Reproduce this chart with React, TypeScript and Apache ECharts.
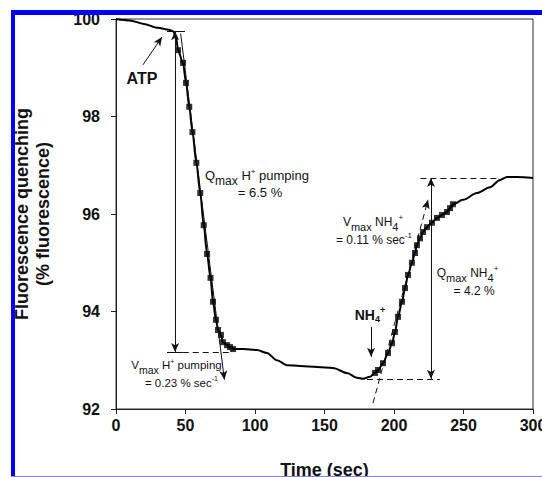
import React, { useEffect, useRef } from "react";
import * as echarts from "echarts";

// Fluorescence trace (time in sec, % fluorescence)
const traceTime = [0, 10, 20, 30, 38, 41, 43.3, 44.6, 48.2, 50.4, 52.7, 55.0, 57.8, 60.6, 63.1, 65.5, 68.0, 69.8, 71.9, 73.4, 75.5, 77.0, 79.9, 82.0, 84.2, 91.4, 101.4, 108.6, 115.8, 123, 132.4, 144.6, 156.1, 166.2, 173.4, 177.7, 182.7, 186.3, 188.5, 192.1, 195.7, 198.6, 200.7, 202.9, 205.8, 207.9, 210.1, 212.9, 215.1, 216.5, 218.7, 220.9, 223.7, 227.3, 230.9, 234.5, 238.1, 240.3, 242.4, 249.6, 259.7, 269.1, 276.3, 281.3, 288.5, 300];
const traceFluor = [100, 99.97, 99.9, 99.82, 99.78, 99.75, 99.62, 99.36, 99.1, 98.69, 98.2, 97.68, 97.05, 96.43, 95.77, 95.18, 94.69, 94.2, 93.83, 93.62, 93.52, 93.37, 93.31, 93.27, 93.23, 93.23, 93.21, 93.15, 93.0, 92.9, 92.88, 92.86, 92.84, 92.74, 92.64, 92.62, 92.66, 92.74, 92.8, 92.94, 93.15, 93.35, 93.58, 93.89, 94.2, 94.48, 94.75, 95.0, 95.2, 95.36, 95.5, 95.63, 95.73, 95.82, 95.92, 95.98, 96.04, 96.12, 96.2, 96.29, 96.43, 96.55, 96.7, 96.76, 96.76, 96.74];

// Square markers along the two fitted phases
const markerTime = [44.6, 48.2, 50.4, 52.7, 55.0, 57.8, 60.6, 63.1, 65.5, 68.0, 69.8, 71.9, 73.4, 75.5, 77.0, 79.9, 82.0, 84.2, 186.3, 188.5, 192.1, 195.7, 198.6, 200.7, 202.9, 205.8, 207.9, 210.1, 212.9, 215.1, 216.5, 218.7, 220.9, 223.7, 227.3, 230.9, 234.5, 238.1, 240.3, 242.4];
const markerFluor = [99.36, 99.1, 98.69, 98.2, 97.68, 97.05, 96.43, 95.77, 95.18, 94.69, 94.2, 93.83, 93.62, 93.52, 93.37, 93.31, 93.27, 93.23, 92.74, 92.8, 92.94, 93.15, 93.35, 93.58, 93.89, 94.2, 94.48, 94.75, 95.0, 95.2, 95.36, 95.5, 95.63, 95.73, 95.82, 95.92, 95.98, 96.04, 96.12, 96.2];

// Annotation anchors (data coordinates)
const atpArrow = [[19.4, 99.06], [33.1, 99.63]];
const nh4Arrow = [[183.5, 93.68], [183.5, 93.07]];
const qmaxH = { time: 42.5, top: 99.75, bottom: 93.17, left: 36.7, right: 49.6, solidEnd: 48, dashEnd: 84 };
const vmaxHLine = [[46.5, 99.7], [78, 92.6]];
const qmaxNH4 = { time: 226.6, top: 96.74, bottom: 92.62, topFrom: 219, topTo: 275, botFrom: 180.6, botTo: 233 };
const vmaxNH4Line = [[184.9, 92.12], [224.5, 96.29]];

const FONT = "'Liberation Sans', Arial, Helvetica, sans-serif";
const INK = "#111";

function rich(s: number) {
  const base = { fontFamily: FONT, color: INK, verticalAlign: "middle", lineHeight: 14 };
  const small = Math.round(s * 0.65);
  return {
    n: { ...base, fontSize: s },
    sub: { ...base, fontSize: s - 1, padding: [10, 0, 0, 0] },
    sup: { ...base, fontSize: small, padding: [0, 0, 8, 0] },
    b: { ...base, fontSize: s, fontWeight: "bold" },
    bsub: { ...base, fontSize: small, fontWeight: "bold", padding: [9, 0, 0, 0] },
    bsup: { ...base, fontSize: small, fontWeight: "bold", padding: [0, 0, 9, 0] },
  };
}

function textPoint(x: number, y: number, text: string, size: number) {
  return {
    coord: [x, y],
    symbol: "circle",
    symbolSize: 0,
    itemStyle: { color: "rgba(0,0,0,0)" },
    label: { show: true, position: "inside", formatter: text, rich: rich(size), color: INK },
  };
}

const arrowEnd = { symbol: "arrow", symbolSize: [6, 9] };

export default function App() {
  const ref = useRef<HTMLDivElement>(null);
  useEffect(() => {
    const chart = echarts.init(ref.current!, null, { renderer: "svg" });
    const trace = traceTime.map((t, i) => [t, traceFluor[i]]);
    const markers = markerTime.map((t, i) => [t, markerFluor[i]]);
    const seg = (a: number[], b: number[], opts: any = {}, fromOpts: any = {}, toOpts: any = {}) => [
      { coord: a, ...opts, ...fromOpts },
      { coord: b, ...toOpts },
    ];
    const dashed = { lineStyle: { type: [6, 4], color: INK, width: 1 } };
    chart.setOption({
      animation: false,
      grid: {
        left: 116, right: 9, top: 19, bottom: 68,
        show: true, borderColor: "#333", borderWidth: 1, backgroundColor: "transparent",
        containLabel: false, outerBoundsMode: "none",
      },
      xAxis: {
        type: "value",
        min: 0,
        max: 300,
        interval: 50,
        name: "Time (sec)",
        nameLocation: "middle",
        nameGap: 52,
        nameTextStyle: { fontSize: 18, fontWeight: "bold", fontFamily: FONT, color: INK },
        axisLine: { show: true, lineStyle: { color: "#222", width: 1 } },
        axisTick: { show: true, inside: false, length: 5, lineStyle: { color: "#222" } },
        axisLabel: { fontSize: 16, fontWeight: "bold", fontFamily: FONT, color: INK, margin: 8, hideOverlap: false },
        splitLine: { show: false },
      },
      yAxis: {
        type: "value",
        min: 92,
        max: 100,
        interval: 2,
        name: "Fluorescence quenching\n(% fluorescence)",
        nameLocation: "middle",
        nameRotate: 90,
        nameGap: 63,
        nameTextStyle: { fontSize: 18, fontWeight: "bold", fontFamily: FONT, color: INK, lineHeight: 21 },
        axisLine: { show: true, lineStyle: { color: "#222", width: 1 } },
        axisTick: { show: true, inside: false, length: 5, lineStyle: { color: "#222" } },
        axisLabel: { fontSize: 16, fontWeight: "bold", fontFamily: FONT, color: INK, margin: 16 },
        splitLine: { show: false },
      },
      graphic: [
        { type: "rect", z: 100, shape: { x: 11, y: 10, width: 4, height: 467 }, style: { fill: "#0000ff" }, silent: true },
        { type: "rect", z: 100, shape: { x: 11, y: 10, width: 531, height: 5 }, style: { fill: "#0000ff" }, silent: true },
        { type: "rect", z: 100, shape: { x: 11, y: 476, width: 531, height: 1 }, style: { fill: "#8080ff" }, silent: true },
      ],
      series: [
        {
          type: "line",
          data: trace,
          smooth: 0.3,
          smoothMonotone: "x",
          showSymbol: false,
          color: "#000",
          lineStyle: { color: "#000", width: 2 },
          silent: true,
          z: 3,
          markLine: {
            silent: true,
            animation: false,
            symbol: ["none", "none"],
            symbolSize: [0, 0],
            label: { show: false },
            emphasis: { disabled: true },
            lineStyle: { color: INK, width: 1, type: "solid" },
            itemStyle: { color: INK },
            data: [
              seg(atpArrow[0], atpArrow[1], {}, {}, arrowEnd),
              seg(nh4Arrow[0], nh4Arrow[1], {}, {}, arrowEnd),
              seg([qmaxH.time, qmaxH.top], [qmaxH.time, qmaxH.bottom], {}, arrowEnd, arrowEnd),
              seg([qmaxH.left, qmaxH.top], [qmaxH.right, qmaxH.top]),
              seg([qmaxH.left, qmaxH.bottom], [qmaxH.solidEnd, qmaxH.bottom]),
              seg([qmaxH.solidEnd, qmaxH.bottom], [qmaxH.dashEnd, qmaxH.bottom], dashed),
              seg(vmaxHLine[0], vmaxHLine[1], {}, {}, arrowEnd),
              seg([qmaxNH4.time, qmaxNH4.top], [qmaxNH4.time, qmaxNH4.bottom], {}, arrowEnd, arrowEnd),
              seg([qmaxNH4.topFrom, qmaxNH4.top], [qmaxNH4.topTo, qmaxNH4.top], dashed),
              seg([qmaxNH4.botFrom, qmaxNH4.bottom], [qmaxNH4.botTo, qmaxNH4.bottom], dashed),
              seg(vmaxNH4Line[0], vmaxNH4Line[1], dashed, {}, arrowEnd),
            ],
          },
          markPoint: {
            silent: true,
            animation: false,
            data: [
              textPoint(18.7, 98.77, "{b|ATP}", 16),
              textPoint(182.7, 93.93, "{b|NH}{bsub|4}{bsup|+}", 14),
              textPoint(101.4, 96.78, "{n|Q}{sub|max}{n| H}{sup|+}{n| pumping}", 13),
              textPoint(103.6, 96.45, "{n|= 6.5 %}", 13),
              textPoint(43.5, 92.9, "{n|V}{sub|max}{n| H}{sup|+}{n| pumping}", 11.5),
              textPoint(47.1, 92.54, "{n|= 0.23 % sec}{sup|-1}", 11.5),
              textPoint(184.9, 95.84, "{n|V}{sub|max}{n| NH}{sub|4}{sup|+}", 12),
              textPoint(185.6, 95.47, "{n|= 0.11 % sec}{sup|-1}", 12),
              textPoint(252.9, 94.79, "{n|Q}{sub|max}{n| NH}{sub|4}{sup|+}", 12),
              textPoint(257.6, 94.42, "{n|= 4.2 %}", 12),
            ],
          },
        },
        {
          type: "scatter",
          data: markers,
          symbol: "rect",
          symbolSize: 6,
          itemStyle: { color: "#000" },
          silent: true,
          z: 4,
        },
      ],
    });
    return () => chart.dispose();
  }, []);
  return <div ref={ref} style={{ position: "fixed", left: 0, top: 0, width: 542, height: 477, background: "#fff" }} />;
}
